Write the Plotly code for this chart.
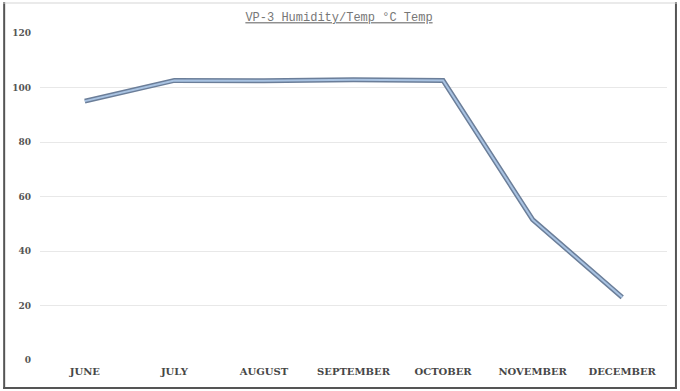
import plotly.graph_objects as go

months = ["JUNE", "JULY", "AUGUST", "SEPTEMBER", "OCTOBER", "NOVEMBER", "DECEMBER"]
values = [95, 102.6, 102.5, 102.8, 102.6, 51.5, 23]
y_ticks = [0, 20, 40, 60, 80, 100, 120]

fig = go.Figure()
fig.add_trace(go.Scatter(x=months, y=values, mode="lines",
                         line=dict(color="#6B7E99", width=5), hoverinfo="skip", showlegend=False))
fig.add_trace(go.Scatter(x=months, y=values, mode="lines",
                         line=dict(color="#A9C3E2", width=2), showlegend=False))

L, R, T, B = 37, 13, 33, 31
W, H = 680, 391
pw, ph = W - L - R, H - T - B

def px(x):
    return (x - L) / pw

def py(y):
    return (H - B - y) / ph

fig.update_layout(
    width=W, height=H,
    margin=dict(l=L, r=R, t=T, b=B),
    paper_bgcolor="white", plot_bgcolor="white",
    title=dict(text="<u>VP-3 Humidity/Temp °C Temp</u>", x=339 / W, xanchor="center",
               y=1 - 17 / H, yanchor="middle",
               font=dict(family="Liberation Mono", size=12, color="#777777")),
    xaxis=dict(showgrid=False, showline=False, ticks="", range=[-0.5, 6.5],
               tickfont=dict(family="DejaVu Serif", size=10, color="#474747", weight="bold"),
               ticklabelstandoff=4, fixedrange=True),
    yaxis=dict(range=[0, 120], tickvals=y_ticks, showgrid=True, gridcolor="#E8E8E8", gridwidth=1,
               zeroline=False, showline=False, ticks="",
               tickfont=dict(family="DejaVu Serif", size=9, color="#555555", weight="bold"),
               ticklabelstandoff=8),
    shapes=[
        dict(type="line", xref="paper", yref="paper", x0=px(1), x1=px(1), y0=py(2), y1=py(389),
             line=dict(color="#555555", width=2)),
        dict(type="line", xref="paper", yref="paper", x0=px(676), x1=px(676), y0=py(2), y1=py(389),
             line=dict(color="#555555", width=2)),
        dict(type="line", xref="paper", yref="paper", x0=px(0), x1=px(677), y0=py(388), y1=py(388),
             line=dict(color="#555555", width=2)),
        dict(type="line", xref="paper", yref="paper", x0=px(0), x1=px(677), y0=py(3), y1=py(3),
             line=dict(color="#D5D5D5", width=1)),
    ],
)

fig.write_html("out.html", config={"displayModeBar": False},
               post_script="document.body.style.margin='0';")
